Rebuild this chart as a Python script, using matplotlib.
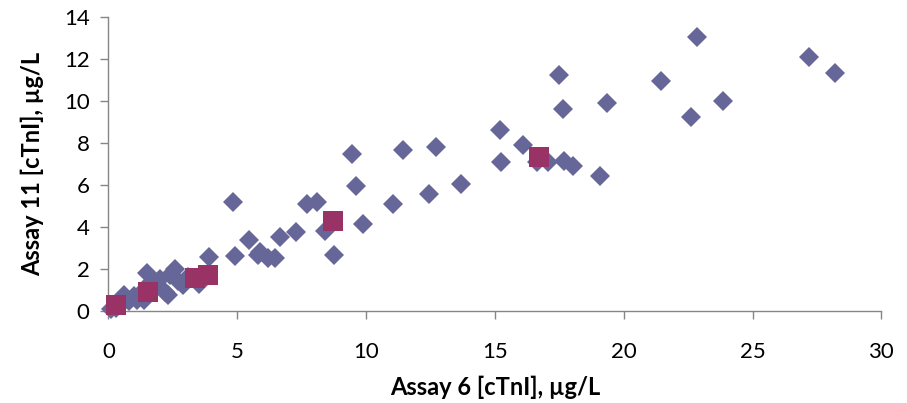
import matplotlib
matplotlib.use("Agg")
import matplotlib.pyplot as plt

# Assay 6 vs Assay 11 cTnI results (µg/L)
assay6 = [
    0.1, 0.3, 0.5, 0.6, 0.8, 1.0, 1.1, 1.3, 1.4, 1.5, 1.6, 1.8, 2.0, 2.2,
    2.3, 2.4, 2.6, 2.7, 2.9, 3.1, 3.5, 3.9, 4.85, 4.9, 5.45, 5.8, 5.9,
    6.2, 6.45, 6.65, 7.3, 7.7, 8.1, 8.4, 8.75, 9.45, 9.6, 9.9, 11.05,
    11.45, 12.45, 12.7, 13.7, 15.2, 15.25, 16.1, 16.65, 17.05, 17.5,
    17.65, 17.7, 18.05, 19.1, 19.35, 21.45, 22.6, 22.85, 23.85, 27.2, 28.2,
]
assay11 = [
    0.05, 0.1, 0.3, 0.75, 0.45, 0.7, 0.5, 0.9, 0.5, 1.8, 1.3, 1.1, 1.5, 0.9,
    0.75, 1.7, 2.0, 1.4, 1.2, 1.6, 1.25, 2.55, 5.15, 2.6, 3.38, 2.66, 2.8,
    2.5, 2.5, 3.48, 3.73, 5.09, 5.17, 3.78, 2.66, 7.46, 5.94, 4.13, 5.06,
    7.66, 5.54, 7.78, 6.02, 8.6, 7.09, 7.87, 7.06, 7.06, 11.2, 9.58,
    7.12, 6.9, 6.42, 9.89, 10.94, 9.22, 13.05, 9.97, 12.1, 11.33,
]

# Second group of samples
group2_assay6 = [0.3, 1.55, 3.35, 3.85, 8.7, 16.7]
group2_assay11 = [0.25, 0.9, 1.57, 1.67, 4.25, 7.33]

x_ticks = [0, 5, 10, 15, 20, 25, 30]
y_ticks = [0, 2, 4, 6, 8, 10, 12, 14]

plt.rcParams["font.family"] = ["Lato", "DejaVu Sans"]

fig = plt.figure(figsize=(9.07, 4.03), dpi=100)
ax = fig.add_axes([0.1195, 0.2295, 0.8522, 0.7290])

ax.plot(assay6, assay11, linestyle="none", marker="D", markersize=10.6,
        color="#666699", markeredgewidth=0, zorder=2, clip_on=False)
ax.plot(group2_assay6, group2_assay11, linestyle="none", marker="s",
        markersize=14.2, color="#993366", markeredgewidth=0, zorder=3,
        clip_on=False)

ax.set_xlim(0, 30)
ax.set_ylim(0, 14)
ax.set_xticks(x_ticks)
ax.set_yticks(y_ticks)
ax.tick_params(axis="both", direction="out", length=5.5, width=1,
               color="#868686", labelsize=16)
ax.tick_params(axis="y", pad=8)
ax.tick_params(axis="x", pad=17)

for side in ("top", "right"):
    ax.spines[side].set_visible(False)
for side in ("left", "bottom"):
    ax.spines[side].set_color("#868686")
    ax.spines[side].set_linewidth(1)

ax.set_xlabel("Assay 6 [cTnI], µg/L", fontsize=17, fontweight="bold",
              labelpad=10)
ax.set_ylabel("Assay 11 [cTnI], µg/L", fontsize=17, fontweight="bold",
              labelpad=14)

fig.savefig("out.png", dpi=100)
